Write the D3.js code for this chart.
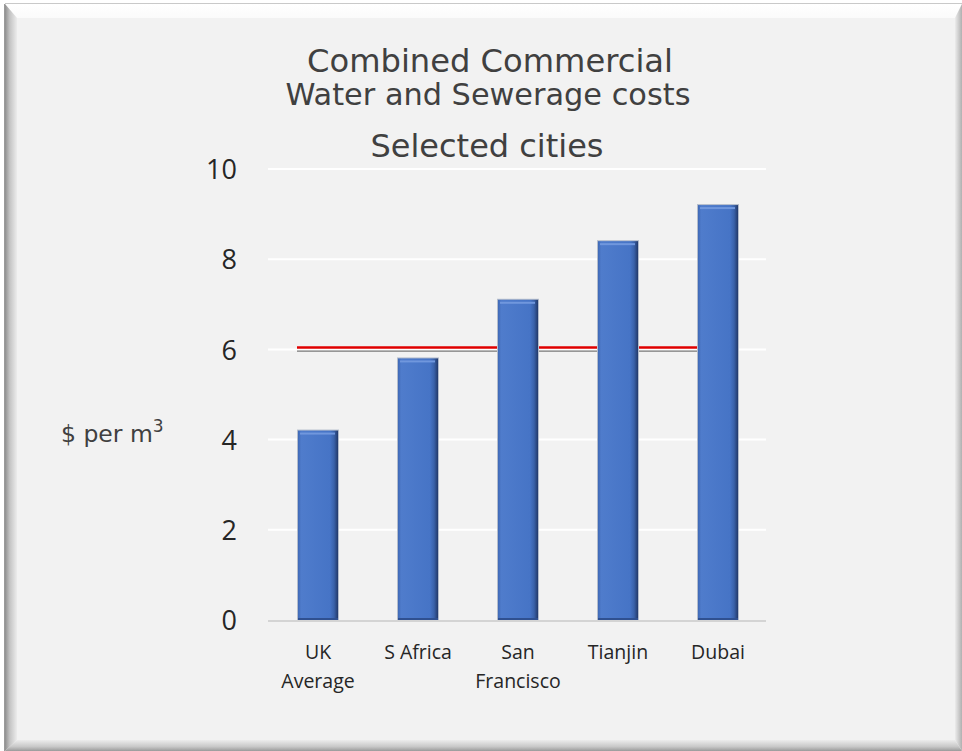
<!DOCTYPE html>
<html>
<head>
<meta charset="utf-8">
<script src="https://cdn.jsdelivr.net/npm/d3@7"></script>
<style>
  html, body { margin: 0; padding: 0; background: #ffffff; }
  svg { display: block; }
</style>
</head>
<body>
<svg id="chart" width="962" height="751"></svg>
<script>
// ---- data ----
const categories = ["UK Average", "S Africa", "San Francisco", "Tianjin", "Dubai"];
const categoryLines = [["UK", "Average"], ["S Africa"], ["San", "Francisco"], ["Tianjin"], ["Dubai"]];
const costs = [4.2, 5.8, 7.1, 8.4, 9.2];
const yTicks = [0, 2, 4, 6, 8, 10];
const referenceValue = 6.04;
const titleLines = ["Combined Commercial", "Water and Sewerage costs"];
const subtitle = "Selected cities";
const yLabel = "$ per m";

// ---- layout ----
const W = 962, H = 751;
const plot = { left: 268, right: 768, top: 169, bottom: 620 };
const svg = d3.select("#chart");
const defs = svg.append("defs");

// frame (bevel)
const fx0 = 5, fy0 = 4, fx1 = 962, fy1 = 751;
const bt = 14, bl = 12, bb = 11, br = 7;
svg.append("rect").attr("x", fx0).attr("y", fy0).attr("width", fx1 - fx0).attr("height", fy1 - fy0)
  .attr("fill", "#f2f2f2");
const gLeft = defs.append("linearGradient").attr("id", "gl").attr("x1", 0).attr("x2", 1).attr("y1", 0).attr("y2", 0);
gLeft.append("stop").attr("offset", 0).attr("stop-color", "#8f8f8f");
gLeft.append("stop").attr("offset", 0.4).attr("stop-color", "#c4c4c4");
gLeft.append("stop").attr("offset", 1).attr("stop-color", "#ececec");
const gBot = defs.append("linearGradient").attr("id", "gb").attr("x1", 0).attr("x2", 0).attr("y1", 0).attr("y2", 1);
gBot.append("stop").attr("offset", 0).attr("stop-color", "#ececec");
gBot.append("stop").attr("offset", 0.6).attr("stop-color", "#c8c8c8");
gBot.append("stop").attr("offset", 1).attr("stop-color", "#9a9a9a");
const gRight = defs.append("linearGradient").attr("id", "gr").attr("x1", 0).attr("x2", 1).attr("y1", 0).attr("y2", 0);
gRight.append("stop").attr("offset", 0).attr("stop-color", "#ececec");
gRight.append("stop").attr("offset", 1).attr("stop-color", "#b0b0b0");
const gTop = defs.append("linearGradient").attr("id", "gt").attr("x1", 0).attr("x2", 0).attr("y1", 0).attr("y2", 1);
gTop.append("stop").attr("offset", 0).attr("stop-color", "#ffffff");
gTop.append("stop").attr("offset", 1).attr("stop-color", "#fbfbfb");

svg.append("polygon").attr("points", [[fx0, fy0], [fx1, fy0], [fx1 - br, fy0 + bt], [fx0 + bl, fy0 + bt]].join(" "))
  .attr("fill", "url(#gt)");
svg.append("polygon").attr("points", [[fx0, fy0], [fx0 + bl, fy0 + bt], [fx0 + bl, fy1 - bb], [fx0, fy1]].join(" "))
  .attr("fill", "url(#gl)");
svg.append("polygon").attr("points", [[fx0, fy1], [fx0 + bl, fy1 - bb], [fx1 - br, fy1 - bb], [fx1, fy1]].join(" "))
  .attr("fill", "url(#gb)");
svg.append("polygon").attr("points", [[fx1, fy0], [fx1, fy1], [fx1 - br, fy1 - bb], [fx1 - br, fy0 + bt]].join(" "))
  .attr("fill", "url(#gr)");
svg.append("line").attr("x1", fx0).attr("x2", fx1).attr("y1", fy0 - 0.5).attr("y2", fy0 - 0.5)
  .attr("stroke", "#c9c9c9").attr("stroke-width", 1);
svg.append("line").attr("x1", fx0 - 0.5).attr("x2", fx0 - 0.5).attr("y1", fy0).attr("y2", fy1)
  .attr("stroke", "#9a9a9a").attr("stroke-width", 1);

// ---- scales ----
const x = d3.scaleBand().domain(categories).range([plot.left, plot.right]).paddingInner(0.6).paddingOuter(0.3);
const y = d3.scaleLinear().domain([0, 10]).range([plot.bottom, plot.top]);

// gridlines
svg.append("g").selectAll("line").data(yTicks.filter(d => d > 0)).join("line")
  .attr("x1", plot.left).attr("x2", plot.right - 2)
  .attr("y1", d => y(d)).attr("y2", d => y(d))
  .attr("stroke", "#ffffff").attr("stroke-width", 2);
// baseline
svg.append("line").attr("x1", plot.left).attr("x2", plot.right - 2)
  .attr("y1", y(0) + 1).attr("y2", y(0) + 1)
  .attr("stroke", "#d4d4d4").attr("stroke-width", 2);

// y axis labels
const yAxis = d3.axisLeft(y).tickValues(yTicks).tickSize(0).tickPadding(0).tickFormat(d3.format("d"));
const yg = svg.append("g").attr("transform", `translate(${plot.left - 31},0)`).call(yAxis);
yg.select(".domain").remove();
yg.selectAll("text").attr("font-family", "'Open Sans', sans-serif").attr("font-size", 27)
  .attr("fill", "#262626").attr("dy", "0.36em");

// reference line (behind bars)
const refX1 = x(categories[0]) - 1, refX2 = x(categories[categories.length - 1]) + 2;
svg.append("line").attr("x1", refX1).attr("x2", refX2)
  .attr("y1", y(referenceValue) + 3.5).attr("y2", y(referenceValue) + 3.5)
  .attr("stroke", "#5a5a5a").attr("stroke-width", 1);
svg.append("line").attr("x1", refX1).attr("x2", refX2)
  .attr("y1", y(referenceValue)).attr("y2", y(referenceValue))
  .attr("stroke", "#e00000").attr("stroke-width", 2.5);

// bars
const gBar = defs.append("linearGradient").attr("id", "gbar").attr("x1", 0).attr("x2", 1).attr("y1", 0).attr("y2", 0);
gBar.append("stop").attr("offset", 0).attr("stop-color", "#3f69b5");
gBar.append("stop").attr("offset", 0.08).attr("stop-color", "#4f7ccc");
gBar.append("stop").attr("offset", 0.8).attr("stop-color", "#4674c6");
gBar.append("stop").attr("offset", 0.9).attr("stop-color", "#3a62aa");
gBar.append("stop").attr("offset", 1).attr("stop-color", "#22396a");

const bars = svg.append("g").selectAll("g").data(costs).join("g");
bars.append("rect")
  .attr("x", (d, i) => x(categories[i]) - 1)
  .attr("y", d => y(d) - 1)
  .attr("width", x.bandwidth() + 2)
  .attr("height", d => y(0) - y(d) + 1)
  .attr("fill", "#b4bccb");
bars.append("rect")
  .attr("x", (d, i) => x(categories[i]))
  .attr("y", d => y(d))
  .attr("width", x.bandwidth())
  .attr("height", d => y(0) - y(d))
  .attr("fill", "url(#gbar)");
bars.append("rect")
  .attr("x", (d, i) => x(categories[i]) + 2)
  .attr("y", d => y(d) + 2)
  .attr("width", x.bandwidth() - 5)
  .attr("height", 2)
  .attr("fill", "#7097dd");
bars.append("rect")
  .attr("x", (d, i) => x(categories[i]))
  .attr("y", d => y(0) - 2)
  .attr("width", x.bandwidth())
  .attr("height", 2)
  .attr("fill", "#2f5090");

// x labels
const xl = svg.append("g").selectAll("text").data(categories).join("text")
  .attr("x", d => x(d) + x.bandwidth() / 2)
  .attr("y", 659)
  .attr("text-anchor", "middle")
  .attr("font-family", "'Open Sans', sans-serif")
  .attr("font-size", 19.5)
  .attr("fill", "#262626");
xl.each(function(d, i) {
  const t = d3.select(this);
  categoryLines[i].forEach((line, j) => {
    t.append("tspan").attr("x", x(d) + x.bandwidth() / 2).attr("dy", j === 0 ? 0 : 29).text(line);
  });
});

// titles
const titleFont = "'DejaVu Sans', sans-serif";
function fitText(sel, targetWidth, size) {
  sel.attr("font-size", size);
  const w = sel.node().getComputedTextLength();
  sel.attr("font-size", size * targetWidth / w);
}
const t1 = svg.append("text").attr("x", 490).attr("y", 72).attr("text-anchor", "middle")
  .attr("font-family", titleFont).attr("fill", "#404040").text(titleLines[0]);
fitText(t1, 366, 28);
const t2 = svg.append("text").attr("x", 488).attr("y", 105).attr("text-anchor", "middle")
  .attr("font-family", titleFont).attr("fill", "#404040").text(titleLines[1]);
fitText(t2, 405, 28);
const t3 = svg.append("text").attr("x", 487).attr("y", 157).attr("text-anchor", "middle")
  .attr("font-family", titleFont).attr("fill", "#404040").text(subtitle);
fitText(t3, 233, 28);

// y axis title
const yt = svg.append("text").attr("x", 61).attr("y", 442)
  .attr("font-family", titleFont).attr("font-size", 23.5).attr("fill", "#404040");
yt.append("tspan").text(yLabel);
yt.append("tspan").attr("dy", -10).attr("font-size", 17).text("3");
</script>
</body>
</html>
